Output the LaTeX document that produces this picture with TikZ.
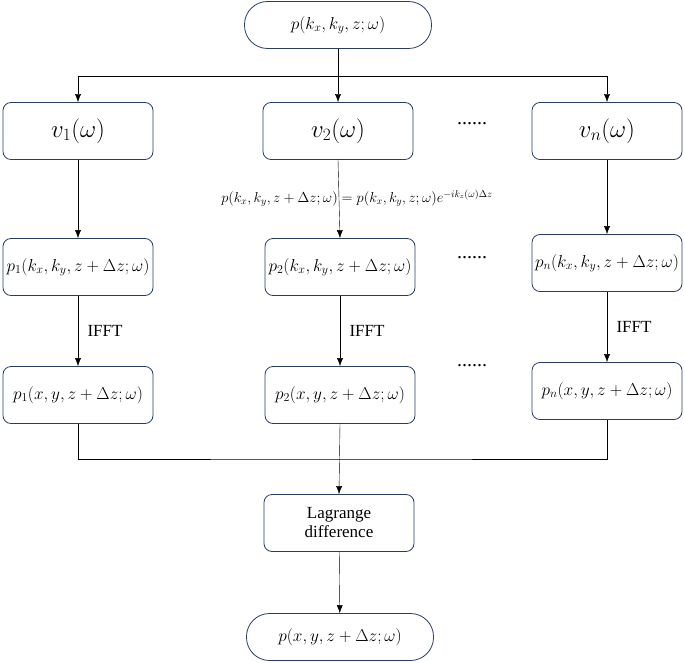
\documentclass[tikz,border=0pt]{standalone}
\usepackage{fontspec}
\setmainfont{Liberation Serif}
\usepackage{amsmath}
\usetikzlibrary{positioning, arrows.meta, calc}
\definecolor{boxline}{RGB}{40,60,100}

\begin{document}
\begin{tikzpicture}[ x = 1pt, y = -1pt
                     , font = \fontsize{17}{19}\selectfont
                     , >={Latex[width=6pt, length=8pt]}
                     , box/.style = { rectangle
                                    , rounded corners = 8pt
                                    , draw = boxline
                                    , thick
                                    , inner sep = 1pt
                                    , align = center
                                    , minimum width = 150pt
                                    , minimum height = 57pt }
                     , pill/.style = { box
                                     , rounded corners = 23pt
                                     , minimum width = 187pt
                                     , minimum height = 47pt }
                     , dots/.style = { font = \fontsize{20}{20}\selectfont }
                     ]
  \useasboundingbox (0,0) rectangle (685,663);

  \node (start) [pill] at (338,25) {$p(k_x, k_y, z;\omega)$};

  \node (v1) [box] at (78,131) {\fontsize{23}{25}\selectfont $v_1(\omega)$};
  \node (v2) [box] at (338,131) {\fontsize{23}{25}\selectfont $v_2(\omega)$};
  \node (vn) [box] at (607,131) {\fontsize{23}{25}\selectfont $v_n(\omega)$};

  \node (pk1) [box] at (78,267) {$p_1(k_x, k_y, z+\Delta z;\omega)$};
  \node (pk2) [box] at (340,267) {$p_2(k_x, k_y, z+\Delta z;\omega)$};
  \node (pkn) [box] at (607,263) {$p_n(k_x, k_y, z+\Delta z;\omega)$};

  \node (px1) [box] at (78,395) {$p_1(x, y, z+\Delta z;\omega)$};
  \node (px2) [box] at (340,395) {$p_2(x, y, z+\Delta z;\omega)$};
  \node (pxn) [box] at (607,391) {$p_n(x, y, z+\Delta z;\omega)$};

  \node (lagrange) [box] at (339,523) {Lagrange\\difference};
  \node (result) [pill] at (340,637) {$p(x, y, z+\Delta z;\omega)$};

  \node [dots] at (472,124) {......};
  \node [dots] at (472,258) {......};
  \node [dots] at (472,366) {......};

  % split to the velocity branches
  \coordinate (split) at (start.south |- 0,76);
  \draw (start.south) -- (split);
  \draw[->] (split) -- (v2.north);
  \draw[->] (split) -| (v1.north);
  \draw[->] (split) -| (vn.north);

  \draw[->] (v1) -- (pk1);
  \draw[->] (v2.south) -- (pk2.north);
  \draw[->] (vn) -- (pkn);
  \node (shift) at (357,198) {\fontsize{14}{16}\selectfont
    $p(k_x, k_y, z+\Delta z;\omega) = p(k_x, k_y, z;\omega)e^{-ik_z(\omega)\Delta z}$};

  \draw[->] (pk1) -- node [right=6pt] {IFFT} (px1);
  \draw[->] (pk2) -- node [right=6pt] {IFFT} (px2);
  \draw[->] (pkn) -- node [right=6pt] {IFFT} (pxn);

  % merge
  \coordinate (merge) at (px2.south |- 0,459);
  \draw (px1.south) |- (merge) -| (pxn.south);
  \draw[->] (px2.south) -- (lagrange.north);
  \draw[->] (lagrange) -- (result);
\end{tikzpicture}
\end{document}
